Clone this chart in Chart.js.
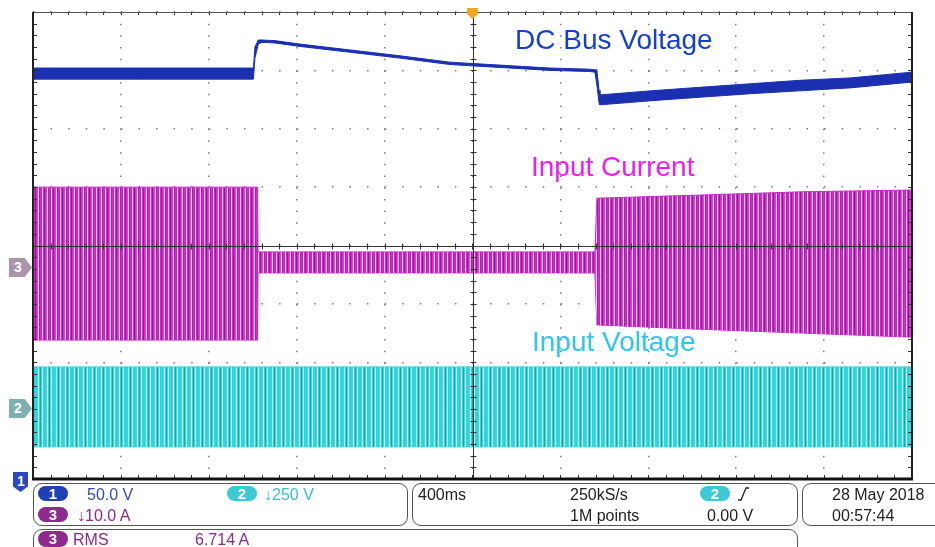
<!DOCTYPE html>
<html>
<head>
<meta charset="utf-8">
<script src="https://cdn.jsdelivr.net/npm/chart.js@4.4.1/dist/chart.umd.min.js"></script>
<style>
  html, body { margin: 0; padding: 0; background: #fff; }
  #wrap { position: relative; width: 935px; height: 547px; overflow: hidden; font-family: "Liberation Sans", Arial, sans-serif; }
  #scope { position: absolute; left: 0; top: 0; }
  .lbl { position: absolute; font-size: 28px; line-height: 28px; white-space: nowrap; }
  .t { position: absolute; font-size: 16px; line-height: 16px; white-space: nowrap; color: #222; }
  .box { position: absolute; border: 1.5px solid #555; border-radius: 9px; box-sizing: border-box; }
  .pill { position: absolute; width: 30px; height: 15px; border-radius: 8px; color: #fff; font-size: 15px; line-height: 15px; text-align: center; font-weight: bold; }
  .mark { position: absolute; color: #fff; font-size: 14px; font-weight: bold; line-height: 19px; padding-left: 5px; box-sizing: border-box; }
</style>
</head>
<body>
<div id="wrap">
  <canvas id="scope" width="935" height="547"></canvas>

  <div class="lbl" style="left:515px; top:26px; color:#1440d0;">DC Bus Voltage</div>
  <div class="lbl" style="left:531px; top:153px; color:#ee1cee;">Input Current</div>
  <div class="lbl" style="left:532px; top:328px; color:#30c4f4;">Input Voltage</div>

  <!-- channel markers -->
  <div class="mark" style="left:9px; top:258px; width:23px; height:19px; background:#a995a9; clip-path:polygon(0 0,68% 0,100% 50%,68% 100%,0 100%);">3</div>
  <div class="mark" style="left:9px; top:399px; width:23px; height:19px; background:#7fb0b0; clip-path:polygon(0 0,68% 0,100% 50%,68% 100%,0 100%);">2</div>
  <div class="mark" style="left:13px; top:472px; width:15px; height:20px; background:#2a48c0; padding-left:4px; clip-path:polygon(0 0,100% 0,100% 72%,50% 100%,0 72%);">1</div>
  <div style="position:absolute; left:467px; top:8px; width:11px; height:11px; background:#f5a623; clip-path:polygon(0 0,100% 0,100% 55%,50% 100%,0 55%);"></div>

  <!-- readout panel -->
  <div class="box" style="left:33px; top:483px; width:375px; height:43px;"></div>
  <div class="box" style="left:412px; top:483px; width:386px; height:43px;"></div>
  <div class="box" style="left:802px; top:483px; width:160px; height:43px;"></div>
  <div class="box" style="left:33px; top:529px; width:765px; height:40px;"></div>

  <div class="pill" style="left:38px; top:486px; background:#2040b8;">1</div>
  <div class="t" style="left:87px; top:486.5px; color:#3848b0;">50.0 V</div>
  <div class="pill" style="left:227px; top:486px; background:#3cc9d6;">2</div>
  <div class="t" style="left:264px; top:486.5px; color:#38c0cc;">↓250 V</div>
  <div class="pill" style="left:38px; top:507px; background:#8e2a8e;">3</div>
  <div class="t" style="left:77px; top:507.5px; color:#8a2a8a;">↓10.0 A</div>

  <div class="t" style="left:418px; top:486.5px;">400ms</div>
  <div class="t" style="left:570px; top:486.5px;">250kS/s</div>
  <div class="t" style="left:570px; top:507.5px;">1M points</div>
  <div class="pill" style="left:700px; top:486px; background:#3cc9d6;">2</div>
  <svg style="position:absolute; left:737px; top:486px;" width="14" height="16"><path d="M1 14 H4 L9 2 H12" stroke="#222" stroke-width="1.3" fill="none"/></svg>
  <div class="t" style="left:707px; top:507.5px;">0.00 V</div>

  <div class="t" style="left:832px; top:486.5px;">28 May 2018</div>
  <div class="t" style="left:832px; top:507.5px;">00:57:44</div>

  <div class="pill" style="left:38px; top:531px; height:16px; background:#8e2a8e;">3</div>
  <div class="t" style="left:73px; top:531.5px; color:#8a2a8a;">RMS</div>
  <div class="t" style="left:195px; top:531.5px; color:#8a2a8a;">6.714 A</div>
</div>

<script>
// time in ms (400 ms/div, trigger at centre), amplitude in screen divisions
const busTime = [-2000, -1500, -997, -990, -975, -958, -900, -785, -557, -330, -102, 125, 353, 535, 557, 566, 576, 580, 813, 1035, 1263, 1490, 1718, 2000];
const busHigh = [3.04, 3.04, 3.04, 3.40, 3.52, 3.52, 3.51, 3.45, 3.35, 3.25, 3.14, 3.09, 3.04, 3.02, 3.01, 3.01, 2.66, 2.58, 2.65, 2.71, 2.77, 2.83, 2.87, 2.97];
const busLow  = [2.85, 2.85, 2.85, 3.21, 3.45, 3.48, 3.47, 3.41, 3.31, 3.21, 3.10, 3.05, 3.00, 2.98, 2.97, 2.75, 2.44, 2.41, 2.48, 2.54, 2.60, 2.65, 2.70, 2.80];

const currentTime = [-2000, -1500, -978, -976, 0, 557, 566, 1000, 1500, 2000];
const currentHigh = [1.00, 1.00, 1.00, -0.11, -0.11, -0.11, 0.81, 0.86, 0.92, 0.95];
const currentLow  = [-1.62, -1.62, -1.62, -0.47, -0.47, -0.47, -1.36, -1.43, -1.50, -1.57];

const voltageTime = [-2000, 0, 2000];
const voltageHigh = [-2.08, -2.08, -2.08];
const voltageLow  = [-3.45, -3.45, -3.45];

const ch3Offset = -0.37;
const ch2Offset = -2.77;

function pts(xs, ys) {
  return xs.map((x, i) => ({ x: x, y: ys[i] }));
}

// vertical stripe fill, mimics the dense sampled sine
function stripes(cols) {
  const c = document.createElement('canvas');
  c.width = cols.length;
  c.height = 1;
  const g = c.getContext('2d');
  cols.forEach((col, i) => { g.fillStyle = col; g.fillRect(i, 0, 1, 1); });
  return g.createPattern(c, 'repeat');
}

const magentaFill = stripes(['#d42ad4', '#e23ee2', '#f5d0f5', '#9a2a9a', '#d42ad4', '#c423c4', '#f5d0f5', '#d42ad4', '#8a208a']);
const cyanFill = stripes(['#2fd3dc', '#3ad8e0', '#c8f2f4', '#2fd3dc', '#2a9ea6', '#3ad8e0', '#c8f2f4', '#2fd3dc', '#35d5de']);

const graticule = {
  id: 'graticule',
  afterDatasetsDraw(chart) {
    const { ctx, chartArea: a, scales: { x, y } } = chart;
    const cx = Math.round(x.getPixelForValue(0)) + 0.5;
    const cy = Math.round(y.getPixelForValue(0)) + 0.5;
    const mx = (a.right - a.left) / 50;
    const my = (a.bottom - a.top) / 40;
    ctx.save();
    ctx.strokeStyle = '#333';
    ctx.lineWidth = 1;
    ctx.beginPath();
    ctx.moveTo(a.left, cy); ctx.lineTo(a.right, cy);
    ctx.moveTo(cx, a.top); ctx.lineTo(cx, a.bottom);
    for (let i = 1; i < 50; i++) {
      const px = Math.round(a.left + i * mx) + 0.5;
      ctx.moveTo(px, cy - 3); ctx.lineTo(px, cy + 3);
      ctx.moveTo(px, a.bottom); ctx.lineTo(px, a.bottom - 4);
      ctx.moveTo(px, a.top); ctx.lineTo(px, a.top + 3);
    }
    for (let j = 1; j < 40; j++) {
      const py = Math.round(a.top + j * my) + 0.5;
      ctx.moveTo(cx - 3, py); ctx.lineTo(cx + 3, py);
      ctx.moveTo(a.left, py); ctx.lineTo(a.left + 4, py);
      ctx.moveTo(a.right, py); ctx.lineTo(a.right - 4, py);
    }
    ctx.stroke();

    // frame
    ctx.strokeStyle = '#555';
    ctx.lineWidth = 1;
    ctx.beginPath();
    ctx.moveTo(a.left, a.top + 0.5); ctx.lineTo(a.right, a.top + 0.5);
    ctx.stroke();
    ctx.strokeStyle = '#222';
    ctx.lineWidth = 2;
    ctx.beginPath();
    ctx.moveTo(a.left, a.top); ctx.lineTo(a.left, a.bottom);
    ctx.moveTo(a.right, a.top); ctx.lineTo(a.right, a.bottom);
    ctx.stroke();
    ctx.strokeStyle = '#111';
    ctx.lineWidth = 3;
    ctx.beginPath();
    ctx.moveTo(a.left - 1, a.bottom); ctx.lineTo(a.right + 1, a.bottom);
    ctx.stroke();
    ctx.restore();
  }
};

new Chart(document.getElementById('scope'), {
  type: 'line',
  data: {
    datasets: [
      { data: pts(voltageTime, voltageHigh), fill: '+1', backgroundColor: cyanFill, borderColor: '#35d0d8', borderWidth: 1 },
      { data: pts(voltageTime, voltageLow), fill: false, borderColor: '#35d0d8', borderWidth: 1 },
      { data: pts(currentTime, currentHigh), fill: '+1', backgroundColor: magentaFill, borderColor: '#c828c8', borderWidth: 1 },
      { data: pts(currentTime, currentLow), fill: false, borderColor: '#c828c8', borderWidth: 1 },
      { data: pts(busTime, busHigh), fill: '+1', backgroundColor: '#1a30b0', borderColor: '#1a30b0', borderWidth: 1 },
      { data: pts(busTime, busLow), fill: false, borderColor: '#1a30b0', borderWidth: 1 }
    ]
  },
  options: {
    responsive: false,
    animation: false,
    layout: { padding: { left: 33, right: 23, top: 12, bottom: 68 } },
    elements: { point: { radius: 0 }, line: { tension: 0 } },
    plugins: { legend: { display: false }, tooltip: { enabled: false } },
    scales: {
      x: {
        type: 'linear', min: -2000, max: 2000,
        ticks: { display: false, stepSize: 400 },
        grid: { color: '#7a7a7a', lineWidth: 1.5, drawTicks: false },
        border: { display: false, dash: [1.5, 10.18] }
      },
      y: {
        min: -4, max: 4,
        ticks: { display: false, stepSize: 1 },
        grid: { color: '#7a7a7a', lineWidth: 1.5, drawTicks: false },
        border: { display: false, dash: [1.5, 16.08] }
      }
    }
  },
  plugins: [graticule]
});
</script>
</body>
</html>
